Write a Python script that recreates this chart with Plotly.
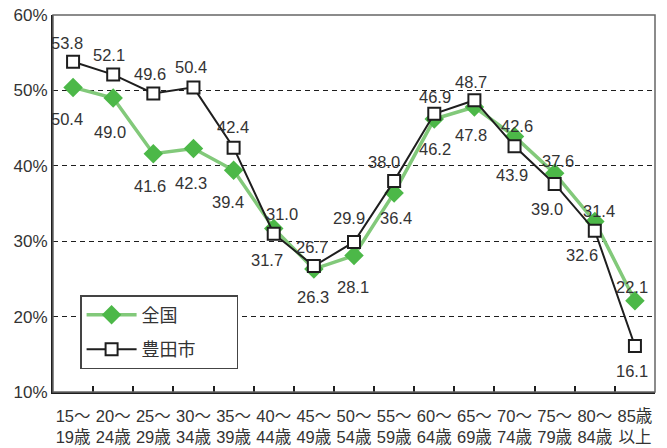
import plotly.graph_objects as go

# Age groups (two-line tick labels)
age_top = ["15～", "20～", "25～", "30～", "35～", "40～", "45～", "50～",
           "55～", "60～", "65～", "70～", "75～", "80～", "85歳"]
age_bottom = ["19歳", "24歳", "29歳", "34歳", "39歳", "44歳", "49歳", "54歳",
              "59歳", "64歳", "69歳", "74歳", "79歳", "84歳", "以上"]
categories = [f"{a}<br>{b}" for a, b in zip(age_top, age_bottom)]

# Rates (%)
zenkoku = [50.4, 49.0, 41.6, 42.3, 39.4, 31.7, 26.3, 28.1, 36.4, 46.2,
           47.8, 43.9, 39.0, 32.6, 22.1]
toyota = [53.8, 52.1, 49.6, 50.4, 42.4, 31.0, 26.7, 29.9, 38.0, 46.9,
          48.7, 42.6, 37.6, 31.4, 16.1]

y_ticks = [10, 20, 30, 40, 50, 60]
y_tick_text = [f"{v}%" for v in y_ticks]

# Label placement (pixel offsets from each point: dx right, dy down)
zenkoku_label_off = [(-6, 32), (-3, 34), (-3, 32), (-2, 35), (-6, 32), (-7, 32),
                     (-1, 28), (-1, 31), (2, 25), (1, 30), (-3, 28), (-3, 39),
                     (-8, 36), (-13, 33), (-3, -14)]
toyota_label_off = [(-6, -19), (-4, -20), (-3, -19), (-2, -20), (-1, -21), (8, -20),
                    (-2, -19), (-5, -24), (-10, -19), (1, -17), (-3, -18), (2, -20),
                    (3, -23), (4, -20), (-3, 25)]

GREEN_LINE = "#82c97a"
GREEN_MARK = "#4cb848"
BLACK = "#1e1e1e"
TEXT = "#333333"
LABEL_FONT = dict(family="Liberation Sans, Arial, sans-serif", size=16.5, color=TEXT)
CJK = "Liberation Sans, Noto Sans CJK JP, sans-serif"

fig = go.Figure()

fig.add_trace(go.Scatter(
    x=categories, y=zenkoku, name="全国", mode="lines+markers",
    line=dict(color=GREEN_LINE, width=3.5),
    marker=dict(symbol="diamond", size=15, color=GREEN_MARK,
                line=dict(color=GREEN_MARK, width=0)),
    legendgroup="a",
))
fig.add_trace(go.Scatter(
    x=categories, y=toyota, name="豊田市\u3000\u3000", mode="lines+markers",
    line=dict(color=BLACK, width=2),
    marker=dict(symbol="square", size=12, color="white",
                line=dict(color=BLACK, width=2)),
    legendgroup="b",
))

annotations = []
for vals, offs in ((zenkoku, zenkoku_label_off), (toyota, toyota_label_off)):
    for cat, v, (dx, dy) in zip(categories, vals, offs):
        annotations.append(dict(
            x=cat, y=v, xref="x", yref="y", text=f"{v:.1f}",
            showarrow=False, xanchor="center", yanchor="middle",
            xshift=dx, yshift=-dy, font=LABEL_FONT,
        ))

fig.update_layout(
    width=667, height=448,
    margin=dict(l=53, r=12, t=15, b=56, autoexpand=False),
    paper_bgcolor="white", plot_bgcolor="white",
    showlegend=True,
    legend=dict(
        x=0.045, y=0.257, xanchor="left", yanchor="top",
        bgcolor="white", bordercolor="#444444", borderwidth=1.5,
        font=dict(family="Noto Sans CJK JP, sans-serif", size=18, color=TEXT),
        traceorder="grouped", tracegroupgap=8, itemwidth=50,
    ),
    annotations=annotations,
    shapes=[dict(type="rect", xref="paper", yref="paper", x0=0, y0=0, x1=1, y1=1,
                 line=dict(color="#666666", width=1.5), layer="above")],
)

fig.update_xaxes(
    type="category", range=[-0.5, len(categories) - 0.5],
    showgrid=False, zeroline=False, automargin=False,
    showline=True, linecolor=BLACK, linewidth=2,
    ticks="inside", tickson="boundaries", ticklen=6, tickwidth=1.5, tickcolor=BLACK,
    tickangle=0, ticklabelstandoff=8,
    tickfont=dict(family=CJK, size=16.5, color=TEXT),
)
fig.update_yaxes(
    range=[10, 60], tickmode="array", tickvals=y_ticks, ticktext=y_tick_text,
    automargin=False,
    showgrid=True, gridcolor=BLACK, gridwidth=1, griddash="5px,4px",
    zeroline=False, showline=True, linecolor=BLACK, linewidth=2,
    ticks="", tickfont=dict(family="Liberation Sans, Arial, sans-serif", size=17, color=TEXT),
)

fig.write_html("out.html")
